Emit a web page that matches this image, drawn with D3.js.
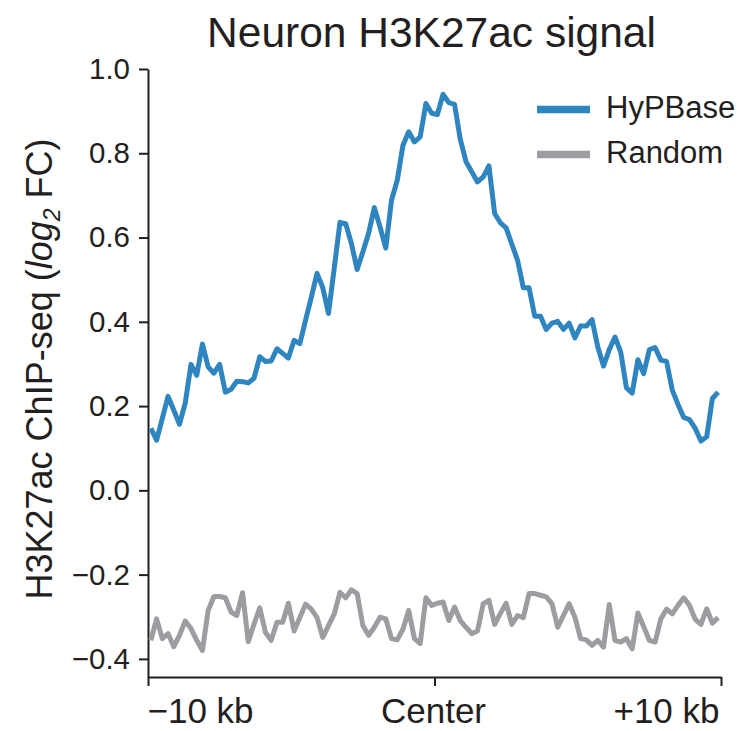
<!DOCTYPE html>
<html>
<head>
<meta charset="utf-8">
<script src="https://cdn.jsdelivr.net/npm/d3@7"></script>
<style>
  body { margin: 0; background: #fff; }
  text { font-family: "Liberation Sans", Arial, Helvetica, sans-serif; fill: #231f20; }
</style>
</head>
<body>
<svg id="chart" width="742" height="731"></svg>
<script>
// profile around peak centers, 100 bins of 200 bp from -10 kb to +10 kb
const hypbase = [
  0.147, 0.119, 0.171, 0.223, 0.190, 0.157, 0.207, 0.299, 0.273, 0.347,
  0.293, 0.278, 0.299, 0.233, 0.240, 0.259, 0.258, 0.255, 0.266, 0.317,
  0.306, 0.307, 0.336, 0.325, 0.314, 0.356, 0.348, 0.404, 0.458, 0.515,
  0.481, 0.420, 0.527, 0.636, 0.633, 0.586, 0.524, 0.566, 0.610, 0.671,
  0.625, 0.575, 0.689, 0.736, 0.819, 0.851, 0.827, 0.839, 0.918, 0.895,
  0.892, 0.940, 0.920, 0.916, 0.833, 0.780, 0.756, 0.732, 0.744, 0.770,
  0.657, 0.635, 0.623, 0.584, 0.546, 0.481, 0.481, 0.413, 0.413, 0.382,
  0.397, 0.401, 0.382, 0.397, 0.362, 0.390, 0.390, 0.405, 0.340, 0.295,
  0.334, 0.364, 0.328, 0.243, 0.231, 0.310, 0.277, 0.334, 0.339, 0.309,
  0.306, 0.238, 0.204, 0.173, 0.168, 0.147, 0.117, 0.127, 0.218, 0.233
];

const random = [
  -0.356, -0.305, -0.352, -0.340, -0.371, -0.344, -0.310, -0.328, -0.356, -0.380,
  -0.285, -0.252, -0.252, -0.255, -0.289, -0.297, -0.243, -0.359, -0.318, -0.279,
  -0.337, -0.356, -0.313, -0.313, -0.268, -0.334, -0.302, -0.270, -0.282, -0.302,
  -0.349, -0.321, -0.293, -0.242, -0.255, -0.236, -0.245, -0.321, -0.344, -0.325,
  -0.301, -0.305, -0.352, -0.355, -0.329, -0.285, -0.352, -0.364, -0.255, -0.273,
  -0.268, -0.265, -0.309, -0.277, -0.309, -0.325, -0.340, -0.334, -0.269, -0.261,
  -0.318, -0.292, -0.268, -0.318, -0.297, -0.302, -0.245, -0.245, -0.249, -0.253,
  -0.269, -0.325, -0.297, -0.269, -0.301, -0.352, -0.355, -0.368, -0.356, -0.372,
  -0.271, -0.356, -0.360, -0.352, -0.376, -0.291, -0.323, -0.356, -0.360, -0.305,
  -0.282, -0.293, -0.273, -0.255, -0.273, -0.306, -0.318, -0.281, -0.315, -0.302
];

const seriesNames = ["HyPBase", "Random"];
const seriesColors = ["#2f85c0", "#9c9da1"];
const xTicks = [-10, 0, 10];
const xTickLabels = ["\u221210 kb", "Center", "+10 kb"];
const yTicks = [-0.4, -0.2, 0.0, 0.2, 0.4, 0.6, 0.8, 1.0];

// bin centres in kb
const binKb = hypbase.map((d, i) => -10 + 0.2 * (i + 0.5));

const svg = d3.select("#chart");
const plotLeft = 148, plotRight = 721, plotTop = 69, plotBottom = 677;

const x = d3.scaleLinear().domain([-10, 10]).range([plotLeft, plotRight]);
const y = d3.scaleLinear().domain([-0.443, 1.0]).range([plotBottom, plotTop]);

// title
svg.append("text")
    .attr("x", (plotLeft + plotRight) / 2 - 3)
    .attr("y", 47)
    .attr("text-anchor", "middle")
    .style("font-size", "42.5px")
    .text("Neuron H3K27ac signal");

// y axis
const yAxis = svg.append("g")
    .attr("transform", `translate(${plotLeft},0)`)
    .call(d3.axisLeft(y).tickValues(yTicks).tickFormat(d3.format(".1f")).tickSize(9).tickSizeOuter(0).tickPadding(9));
yAxis.select(".domain").attr("stroke", "#231f20").attr("stroke-width", 2);
yAxis.selectAll(".tick line").attr("stroke", "#231f20").attr("stroke-width", 2);
yAxis.selectAll(".tick text")
    .style("font-size", "29.5px")
    .style("font-family", "'Liberation Sans', Arial, sans-serif")
    .attr("fill", "#231f20");

// x axis
const xAxis = svg.append("g")
    .attr("transform", `translate(0,${plotBottom})`)
    .call(d3.axisBottom(x).tickValues(xTicks).tickFormat((d, i) => xTickLabels[i]).tickSize(9).tickSizeOuter(0).tickPadding(12));
xAxis.select(".domain").attr("stroke", "#231f20").attr("stroke-width", 2);
xAxis.selectAll(".tick line").attr("stroke", "#231f20").attr("stroke-width", 2);
xAxis.selectAll(".tick text")
    .style("font-size", "35px")
    .style("font-family", "'Liberation Sans', Arial, sans-serif")
    .attr("fill", "#231f20")
    .attr("text-anchor", (d, i) => ["start", "middle", "end"][i])
    .attr("dx", (d, i) => [-1, -1.5, -2][i]);

// y label
const ylab = svg.append("text")
    .attr("transform", `translate(52,369) rotate(-90)`)
    .attr("text-anchor", "middle")
    .style("font-size", "36px");
ylab.append("tspan").text("H3K27ac ChIP-seq (");
ylab.append("tspan").style("font-style", "italic").text("log");
ylab.append("tspan").attr("dy", 8).style("font-size", "23px").style("font-style", "italic").text("2");
ylab.append("tspan").attr("dy", -8).text(" FC)");

// lines
const line = d3.line()
    .x((d, i) => x(binKb[i]))
    .y(d => y(d));

[random, hypbase].forEach((s, k) => {
    svg.append("path")
        .datum(s)
        .attr("fill", "none")
        .attr("stroke", seriesColors[1 - k])
        .attr("stroke-width", 5)
        .attr("stroke-linejoin", "round")
        .attr("d", line);
});

// legend
const legend = svg.append("g").attr("transform", "translate(537,109.5)");
seriesNames.forEach((name, i) => {
    const g = legend.append("g").attr("transform", `translate(0,${i * 45})`);
    g.append("line")
        .attr("x1", 0).attr("x2", 53)
        .attr("stroke", seriesColors[i])
        .attr("stroke-width", 7.5);
    g.append("text")
        .attr("x", 69)
        .attr("y", 8)
        .style("font-size", "31px")
        .text(name);
});
</script>
</body>
</html>
